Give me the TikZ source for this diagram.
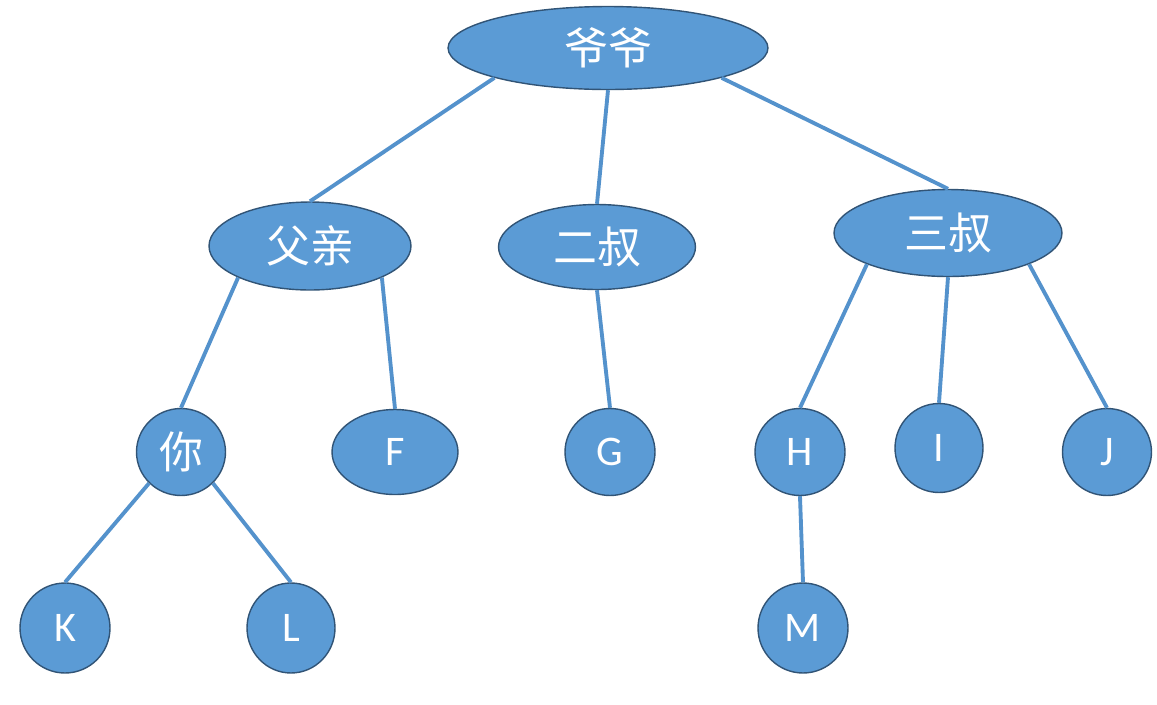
\documentclass[tikz,border=0pt]{standalone}
\usepackage{fontspec}
\setmainfont{Carlito}
\newfontfamily\cjk{Noto Sans CJK SC}
\usepackage{xcolor}
\usetikzlibrary{shapes.geometric}
\definecolor{nodeblue}{RGB}{91,155,213}
\definecolor{rimblue}{RGB}{49,84,118}
\definecolor{linkblue}{RGB}{84,146,204}

\begin{document}
\begin{tikzpicture}[
    x=0.02cm, y=-0.02cm,
    person/.style={ellipse, draw=rimblue, line width=0.8pt, fill=nodeblue,
                   text=white, inner sep=0pt, font=\cjk\fontsize{25}{29}\selectfont},
    leaf/.style={person, font=\fontsize{24}{28}\selectfont},
    link/.style={draw=linkblue, line width=2.2pt}
]
\useasboundingbox (0,0) rectangle (1157,704);
% generation 1
\node[person, minimum width=6.4cm, minimum height=1.66cm] (yeye) at (608,48) {爷爷};
% generation 2
\node[person, minimum width=4.04cm, minimum height=1.76cm] (fuqin) at (310,246) {父亲};
\node[person, minimum width=3.94cm, minimum height=1.70cm] (ershu) at (597,247) {二叔};
\node[person, minimum width=4.56cm, minimum height=1.74cm] (sanshu) at (948,233) {三叔};
% generation 3
\node[person, minimum width=1.78cm, minimum height=1.74cm] (ni) at (181,452) {你};
\node[leaf, minimum width=2.52cm, minimum height=1.70cm] (F) at (395,452) {F};
\node[leaf, minimum width=1.80cm, minimum height=1.74cm] (G) at (610,452) {G};
\node[leaf, minimum width=1.80cm, minimum height=1.74cm] (H) at (800,452) {H};
\node[leaf, minimum width=1.76cm, minimum height=1.78cm] (I) at (939,448) {I};
\node[leaf, minimum width=1.78cm, minimum height=1.74cm] (J) at (1107,452) {J};
% generation 4
\node[leaf, minimum width=1.80cm, minimum height=1.80cm] (K) at (65,628) {K};
\node[leaf, minimum width=1.76cm, minimum height=1.80cm] (L) at (291,628) {L};
\node[leaf, minimum width=1.80cm, minimum height=1.80cm] (M) at (803,628) {M};
% links
\draw[link] (yeye.south west) -- (fuqin.north);
\draw[link] (yeye.south) -- (ershu.north);
\draw[link] (yeye.south east) -- (sanshu.north);
\draw[link] (fuqin.south west) -- (ni.north);
\draw[link] (fuqin.south east) -- (F.north);
\draw[link] (ershu.south) -- (G.north);
\draw[link] (sanshu.south west) -- (H.north);
\draw[link] (sanshu.south) -- (I.north);
\draw[link] (sanshu.south east) -- (J.north);
\draw[link] (ni.south west) -- (K.north);
\draw[link] (ni.south east) -- (L.north);
\draw[link] (H.south) -- (M.north);
\end{tikzpicture}
\end{document}
